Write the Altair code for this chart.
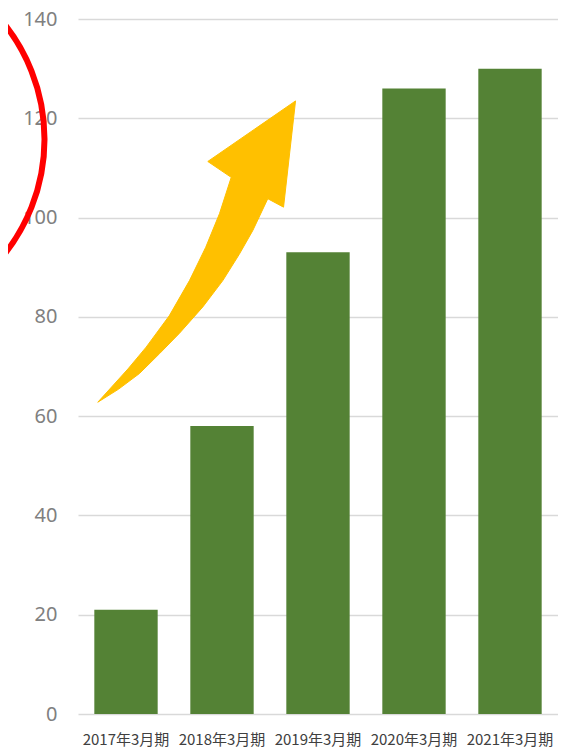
import altair as alt
import pandas as pd

categories = ["2017年3月期", "2018年3月期", "2019年3月期", "2020年3月期", "2021年3月期"]
values = [21, 58, 93, 126, 130]
y_ticks = [0, 20, 40, 60, 80, 100, 120, 140]

# Decorative arrow outline (x in category-index units, y in value units)
arrow_u = [0.206, 0.520, 0.710, 0.950, 1.161, 1.330, 1.474, 1.596, 1.352, 2.266, 2.141, 1.977,
           1.821, 1.680, 1.508, 1.300, 1.057, 0.850, 0.641, 0.420, 0.206]
arrow_v = [62.8, 69.5, 73.9, 80.2, 87.3, 94.0, 100.8, 108.1, 111.3, 123.5, 102.1, 103.8,
           97.4, 92.6, 87.3, 82.0, 76.7, 72.6, 68.6, 65.4, 62.8]

# Decorative red circle (centre in the same units)
circle_u = [-2.276]
circle_v = [115.8]

bars_df = pd.DataFrame({"cat": categories, "val": values})
arrow_df = pd.DataFrame({"u": arrow_u, "v": arrow_v, "i": list(range(len(arrow_u)))})
circle_df = pd.DataFrame({"u": circle_u, "v": circle_v})

yscale = alt.Scale(domain=[0, 140])
uscale = alt.Scale(domain=[0, 5], nice=False, zero=False)
font = "Noto Sans CJK JP"

yaxis = alt.Axis(values=y_ticks, labelFontSize=20, labelColor="#808080", labelFont="Noto Sans",
                 labelPadding=21, ticks=False, tickSize=0, domain=False,
                 gridColor="#d9d9d9", gridWidth=1.5)

bars = alt.Chart(bars_df).mark_bar(color="#548235").encode(
    x=alt.X("cat:N", sort=categories, title=None,
            scale=alt.Scale(paddingInner=0.34, paddingOuter=0.17),
            axis=alt.Axis(labelAngle=0, labelFontSize=15, labelColor="#404040",
                          labelFont=font, labelPadding=25, labelBaseline="middle",
                          ticks=False, tickSize=0, domain=False, grid=False)),
    y=alt.Y("val:Q", scale=yscale, title=None, axis=yaxis),
)

arrow = alt.Chart(arrow_df).mark_line(fill="#FFC000", stroke="#FFC000",
                                      strokeWidth=1, clip=False).encode(
    x=alt.X("u:Q", scale=uscale, axis=None),
    y=alt.Y("v:Q", scale=yscale, title=None, axis=yaxis),
    order="i:Q",
)

circle = alt.Chart(circle_df).mark_point(shape="circle", filled=False, stroke="#FF0000",
                                         strokeWidth=6, size=136900, opacity=1,
                                         clip=False).encode(
    x=alt.X("u:Q", scale=uscale, axis=None),
    y=alt.Y("v:Q", scale=yscale, title=None, axis=yaxis),
)

chart = alt.layer(bars, arrow, circle).resolve_scale(x="independent").properties(
    width=480, height=695,
    background="white",
    autosize=alt.AutoSizeParams(type="none"),
    padding={"left": 70, "top": 11, "right": 0, "bottom": 33},
).configure_view(stroke=None)

chart.save("out.html", embed_options={"renderer": "svg", "actions": False})
